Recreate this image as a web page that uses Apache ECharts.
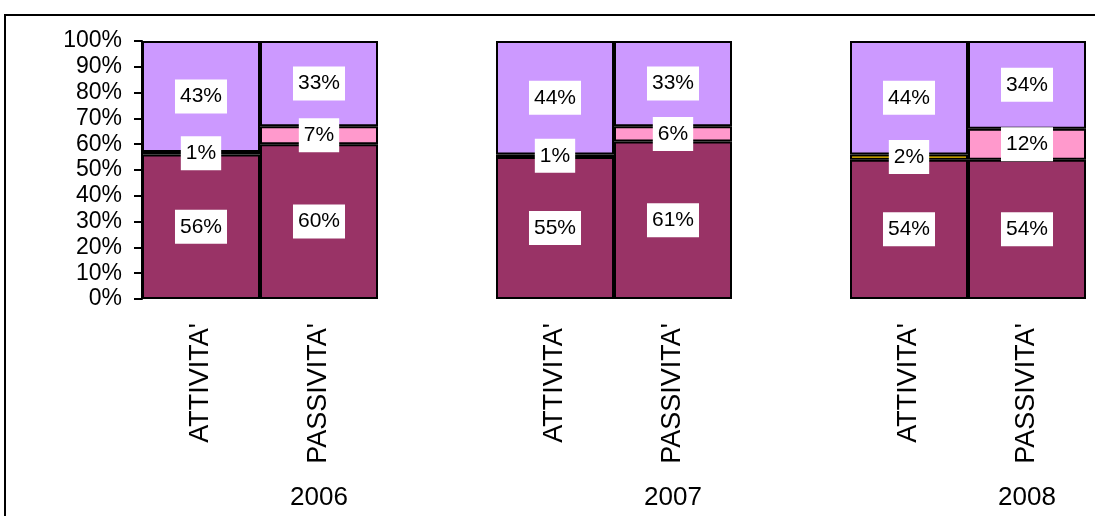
<!DOCTYPE html>
<html lang="it">
<head>
    <meta charset="UTF-8">
    <title>Attività / Passività</title>
    <script src="https://cdn.jsdelivr.net/npm/echarts@6/dist/echarts.min.js"></script>
    <style>
        html, body { margin: 0; padding: 0; background: #fff; overflow: hidden; }
    </style>
</head>
<body>
<!-- il grafico originale prosegue oltre il bordo destro: il contenitore e' piu' largo della finestra -->
<div id="grafico" style="width: 1214px;height: 516px;"></div>
<script>
    // categorie: ogni anno ha ATTIVITA', PASSIVITA' e uno slot vuoto
    var categorie = ["ATTIVITA'", "PASSIVITA'", '', "ATTIVITA'", "PASSIVITA'", '', "ATTIVITA'", "PASSIVITA'", ''];
    var anni = ['2006', '2007', '2008'];
    var tickY = [0, 10, 20, 30, 40, 50, 60, 70, 80, 90, 100];

    // valori in percentuale ('-' = slot vuoto)
    var quotaBordeaux = [56, 60, '-', 55, 61, '-', 54, 54, '-'];
    var quotaGialla = [1, 0, '-', 1, 0, '-', 2, 0, '-'];
    var quotaRosa = [0, 7, '-', 0, 6, '-', 0, 12, '-'];
    var quotaLilla = [43, 33, '-', 44, 33, '-', 44, 34, '-'];

    var font = '"Liberation Sans", Arial, sans-serif';

    function serie(nome, valori, colore) {
        return {
            name: nome,
            type: 'bar',
            stack: 'tot',
            barCategoryGap: 0,
            itemStyle: { color: colore, borderColor: '#000', borderWidth: 2 },
            label: {
                show: true,
                position: 'inside',
                formatter: '{c}%',
                color: '#000',
                fontSize: 21,
                fontFamily: font,
                backgroundColor: '#fff',
                padding: [7, 5, 6, 5]
            },
            // gli zeri non si disegnano
            data: valori.map(function (v) { return v === 0 ? '-' : v; })
        };
    }

    var grafico = echarts.init(document.getElementById('grafico'));
    var opzioni = {
        animation: false,
        graphic: [{
            type: 'rect',
            shape: { x: 5, y: 15, width: 1400, height: 700 },
            style: { fill: 'none', stroke: '#000', lineWidth: 2 }
        }],
        grid: { left: 142, top: 41, bottom: 217, right: 10 },
        xAxis: [
            {
                type: 'category',
                data: categorie,
                axisLine: { show: false },
                axisTick: { show: false },
                axisLabel: {
                    rotate: 90,
                    interval: 0,
                    margin: 24,
                    fontSize: 27,
                    color: '#000',
                    fontFamily: font
                }
            },
            {
                type: 'category',
                position: 'bottom',
                data: anni,
                axisLine: { show: false },
                axisTick: { show: false },
                axisLabel: {
                    margin: 186,
                    fontSize: 26,
                    color: '#000',
                    fontFamily: font
                }
            }
        ],
        yAxis: {
            type: 'value',
            min: tickY[0],
            max: tickY[tickY.length - 1],
            interval: 10,
            axisLine: { show: true, lineStyle: { color: '#000', width: 2 } },
            axisTick: { show: true, length: 8, lineStyle: { color: '#000', width: 2 } },
            splitLine: { show: false },
            axisLabel: {
                formatter: '{value}%',
                margin: 20,
                fontSize: 23,
                color: '#000',
                fontFamily: font
            }
        },
        series: [
            serie('bordeaux', quotaBordeaux, '#993366'),
            serie('giallo', quotaGialla, '#FFCC00'),
            serie('rosa', quotaRosa, '#FF99CC'),
            serie('lilla', quotaLilla, '#CC99FF')
        ]
    };
    grafico.setOption(opzioni);
</script>
</body>
</html>
